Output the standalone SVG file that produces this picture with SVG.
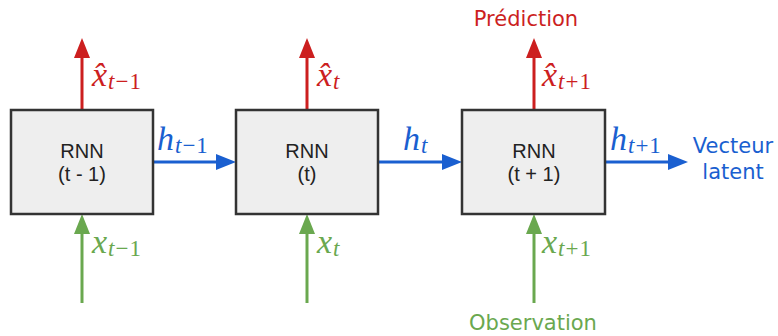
<svg xmlns="http://www.w3.org/2000/svg" width="778" height="336" viewBox="0 0 778 336">
<style>
.box{fill:#eeeeee;stroke:#333333;stroke-width:2.5}
.lbl{font-family:"Liberation Sans",Arial,sans-serif;font-size:20px;fill:#222;text-anchor:middle}
.m{font-family:"Liberation Serif","Times New Roman",serif;font-size:34px}
.it{font-style:italic}
.sub{font-size:23px;letter-spacing:1px}
.r{fill:#cc1f1f}.b{fill:#1a5fd0}.g{fill:#6aa84f}
.word{font-family:"DejaVu Sans","Noto Sans",sans-serif;font-size:21px}
.ar{stroke:#cc1f1f;stroke-width:3;fill:none}
.ab{stroke:#1a5fd0;stroke-width:3;fill:none}
.ag{stroke:#6aa84f;stroke-width:3;fill:none}
</style>
<g id="connectors">
<line class="ar" x1="82" y1="110" x2="82" y2="56"/><polygon points="82,38 74,58 90,58" class="r"/>
<line class="ar" x1="307" y1="110" x2="307" y2="56"/><polygon points="307,38 299,58 315,58" class="r"/>
<line class="ar" x1="534" y1="110" x2="534" y2="56"/><polygon points="534,38 526,58 542,58" class="r"/>
<line class="ab" x1="153" y1="162" x2="218" y2="162"/><polygon points="236,162 216,154 216,170" class="b"/>
<line class="ab" x1="378" y1="162" x2="444" y2="162"/><polygon points="462,162 442,154 442,170" class="b"/>
<line class="ab" x1="605" y1="162" x2="670" y2="162"/><polygon points="688,162 668,154 668,170" class="b"/>
<line class="ag" x1="82" y1="303" x2="82" y2="232"/><polygon points="82,214 74,234 90,234" class="g"/>
<line class="ag" x1="307" y1="303" x2="307" y2="232"/><polygon points="307,214 299,234 315,234" class="g"/>
<line class="ag" x1="534" y1="303" x2="534" y2="232"/><polygon points="534,214 526,234 542,234" class="g"/>
</g>
<g id="rnn1"><rect class="box" x="11" y="110" width="142" height="104"/><text class="lbl" x="82" y="158">RNN</text><text class="lbl" x="82" y="181">(t - 1)</text></g>
<g id="rnn2"><rect class="box" x="236" y="110" width="142" height="104"/><text class="lbl" x="307" y="158">RNN</text><text class="lbl" x="307" y="181">(t)</text></g>
<g id="rnn3"><rect class="box" x="462" y="110" width="143" height="104"/><text class="lbl" x="534" y="158">RNN</text><text class="lbl" x="534" y="181">(t + 1)</text></g>
<g id="labels">
<text x="92" y="86" class="m r"><tspan class="it">x̂</tspan><tspan class="sub it" dx="1" dy="3">t</tspan><tspan class="sub">−1</tspan></text>
<text x="317" y="86" class="m r"><tspan class="it">x̂</tspan><tspan class="sub it" dx="1" dy="3">t</tspan></text>
<text x="542" y="86" class="m r"><tspan class="it">x̂</tspan><tspan class="sub it" dx="1" dy="3">t</tspan><tspan class="sub">+1</tspan></text>
<text x="157" y="150" class="m b"><tspan class="it">h</tspan><tspan class="sub it" dx="1" dy="3">t</tspan><tspan class="sub">−1</tspan></text>
<text x="403" y="150" class="m b"><tspan class="it">h</tspan><tspan class="sub it" dx="1" dy="3">t</tspan></text>
<text x="610" y="150" class="m b"><tspan class="it">h</tspan><tspan class="sub it" dx="1" dy="3">t</tspan><tspan class="sub">+1</tspan></text>
<text x="92" y="253" class="m g"><tspan class="it">x</tspan><tspan class="sub it" dx="1" dy="3">t</tspan><tspan class="sub">−1</tspan></text>
<text x="317" y="253" class="m g"><tspan class="it">x</tspan><tspan class="sub it" dx="1" dy="3">t</tspan></text>
<text x="542" y="253" class="m g"><tspan class="it">x</tspan><tspan class="sub it" dx="1" dy="3">t</tspan><tspan class="sub">+1</tspan></text>
<text x="526" y="26" class="word r" text-anchor="middle">Prédiction</text>
<text x="733" y="153" class="word b" text-anchor="middle">Vecteur</text>
<text x="733" y="179" class="word b" text-anchor="middle">latent</text>
<text x="533" y="330" class="word g" text-anchor="middle">Observation</text>
</g>
</svg>
